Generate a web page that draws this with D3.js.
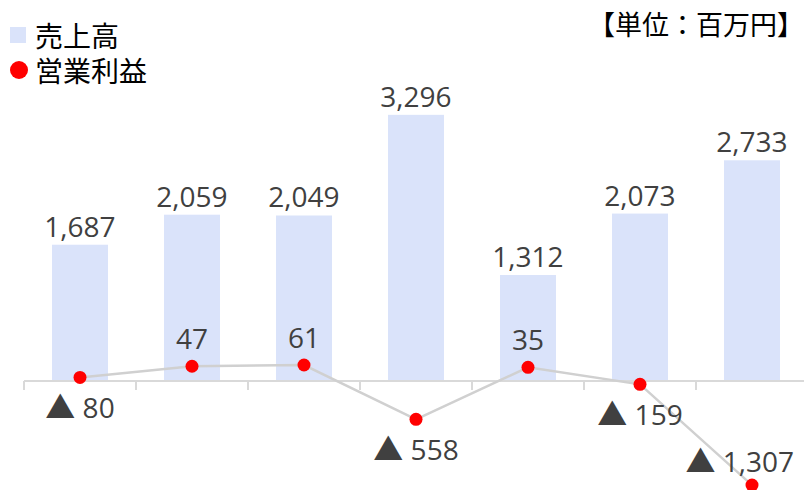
<!DOCTYPE html>
<html><head><meta charset="utf-8">
<script src="https://cdn.jsdelivr.net/npm/d3@7"></script>
<style>html,body{margin:0;padding:0;background:#fff;overflow:hidden}</style>
</head><body>
<svg id="c" width="804" height="490"></svg>
<script>
const categories = ["1","2","3","4","5","6","7"];
const sales = [1687, 2059, 2049, 3296, 1312, 2073, 2733];
const profit = [-80, 47, 61, -558, 35, -159, -1307];
const legendLabels = ["売上高", "営業利益"];
const unitLabel = "【単位：百万円】";

const W = 804, H = 490;
const svg = d3.select("#c");
const numFont = "'Open Sans','Noto Sans',sans-serif";
const jpFont = "'Noto Sans CJK JP','Noto Sans',sans-serif";
const barColor = "#dae3fa";

const x = d3.scaleBand().domain(categories).range([24, 808]).paddingInner(0.5).paddingOuter(0.25);
const y = d3.scaleLinear().domain([-1500, 4000]).range([502, 58]);
const y2 = d3.scaleLinear().domain([-1500, 3560]).range([502, 58]);
const fmt = d3.format(",");

// bars
svg.append("g").selectAll("rect").data(sales).join("rect")
  .attr("x", (d,i) => x(categories[i]))
  .attr("y", d => y(d))
  .attr("width", x.bandwidth())
  .attr("height", d => y(0) - y(d))
  .attr("fill", barColor);

// axis
const axisG = svg.append("g").attr("transform", `translate(0,${y(0)})`);
const xTicks = categories.map(c => x(c) - x.step()*x.paddingInner()/2);
axisG.append("line").attr("x1", 24).attr("x2", W).attr("y1", 0).attr("y2", 0)
  .attr("stroke", "#d9d9d9").attr("stroke-width", 2);
axisG.selectAll("line.t").data(xTicks).join("line").attr("class","t")
  .attr("x1", d => d).attr("x2", d => d).attr("y1", 0).attr("y2", 9)
  .attr("stroke", "#d9d9d9").attr("stroke-width", 2);

// bar labels
svg.append("g").selectAll("text").data(sales).join("text")
  .attr("x", (d,i) => x(categories[i]) + x.bandwidth()/2)
  .attr("y", d => y(d) - 8)
  .attr("text-anchor", "middle")
  .attr("font-family", numFont).attr("font-size", 28).attr("fill", "#404040")
  .text(d => fmt(d));

// line
const cx = i => x(categories[i]) + x.bandwidth()/2;
const line = d3.line().x((d,i) => cx(i)).y(d => y2(d));
svg.append("path").datum(profit).attr("d", line)
  .attr("fill", "none").attr("stroke", "#d0d0d0").attr("stroke-width", 2.5);
svg.append("g").selectAll("circle").data(profit).join("circle")
  .attr("cx", (d,i) => cx(i)).attr("cy", d => y2(d)).attr("r", 6.5).attr("fill", "#ff0000");

// line labels
const pl = svg.append("g");
profit.forEach((v,i) => {
  const t = pl.append("text")
    .attr("font-family", numFont).attr("font-size", 28).attr("fill", "#404040")
    .attr("text-anchor", "middle");
  if (v < 0) {
    t.append("tspan").attr("font-family", jpFont).attr("font-size", 30).text("▲");
    t.append("tspan").text(" " + fmt(-v));
  } else {
    t.text(fmt(v));
  }
  let px = cx(i), py = y2(v);
  let ty = v >= 0 ? py - 17 : py + 41;
  if (ty > H - 5) ty = py - 13;
  t.attr("x", px).attr("y", ty);
  const bb = t.node().getBBox();
  if (bb.x + bb.width > W - 10) t.attr("x", px - (bb.x + bb.width - (W - 10)));
});

// legend
svg.append("rect").attr("x", 10).attr("y", 27).attr("width", 16).attr("height", 16).attr("fill", barColor);
svg.append("circle").attr("cx", 19).attr("cy", 70).attr("r", 9).attr("fill", "#ff0000");
svg.append("g").selectAll("text").data(legendLabels).join("text")
  .attr("x", 35).attr("y", (d,i) => 35 + i*35)
  .attr("dominant-baseline", "central")
  .attr("font-family", jpFont).attr("font-size", 28).attr("fill", "#000")
  .text(d => d);

svg.append("text").attr("x", 804).attr("y", 23).attr("text-anchor", "end")
  .attr("dominant-baseline", "central")
  .attr("font-family", jpFont).attr("font-size", 27).attr("fill", "#000")
  .text(unitLabel);
</script>
</body></html>
